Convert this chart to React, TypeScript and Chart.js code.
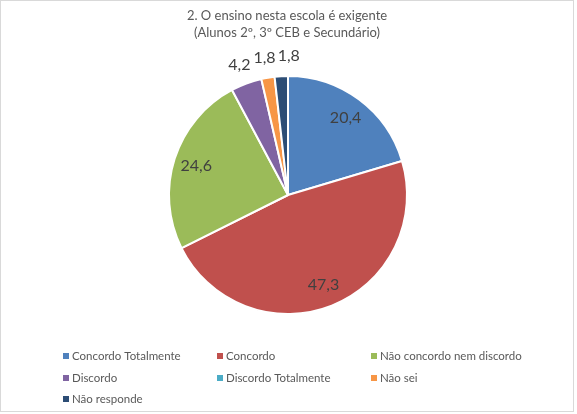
import React, { useEffect, useRef } from "react";
import { Chart, registerables } from "chart.js";

Chart.register(...registerables);

const titleLines = ["2. O ensino nesta escola é exigente", "(Alunos 2º, 3º CEB e Secundário)"];
const categories = [
  "Concordo Totalmente",
  "Concordo",
  "Não concordo nem discordo",
  "Discordo",
  "Discordo Totalmente",
  "Não sei",
  "Não responde",
];
const values = [20.4, 47.3, 24.6, 4.2, 0, 1.8, 1.8];
const colors = ["#4F81BD", "#C0504D", "#9BBB59", "#8064A2", "#4BACC6", "#F79646", "#2C4D75"];

const FONT = "Lato, 'Open Sans', sans-serif";

const fmt = (v: number) => v.toFixed(1).replace(".", ",");

const drawPlugin = {
  id: "customDraw",
  afterDraw(chart: any) {
    const ctx = chart.ctx as CanvasRenderingContext2D;
    ctx.save();
    // border
    ctx.strokeStyle = "#D9D9D9";
    ctx.lineWidth = 1;
    ctx.strokeRect(0.5, 0.5, 573, 411);

    // title
    ctx.fillStyle = "#595959";
    ctx.font = `13px ${FONT}`;
    ctx.textAlign = "center";
    ctx.textBaseline = "middle";
    titleLines.forEach((t, i) => ctx.fillText(t, 287, 16 + i * 17));

    // data labels
    const meta = chart.getDatasetMeta(0);
    ctx.font = `16px ${FONT}`;
    ctx.fillStyle = "#404040";
    let prevRight = -Infinity;
    meta.data.forEach((arc: any, i: number) => {
      const v = values[i];
      if (!v) return;
      const { x, y, startAngle, endAngle, outerRadius } = arc.getProps(
        ["x", "y", "startAngle", "endAngle", "outerRadius"],
        true
      );
      const mid = (startAngle + endAngle) / 2;
      const text = fmt(v);
      const w = ctx.measureText(text).width;
      const small = v < 5;
      const r = small ? outerRadius + 20 : outerRadius * 0.81;
      let lx = x + Math.cos(mid) * r;
      const ly = y + Math.sin(mid) * r;
      if (small) {
        if (lx - w / 2 < prevRight + 2) lx = prevRight + 2 + w / 2;
        prevRight = lx + w / 2;
      }
      ctx.textAlign = "center";
      ctx.textBaseline = "middle";
      ctx.fillText(text, lx, ly);
    });

    // legend
    const colX = [63, 217, 371];
    const rowY = [356, 378, 399];
    ctx.font = `11.5px ${FONT}`;
    ctx.textAlign = "left";
    ctx.textBaseline = "middle";
    categories.forEach((c, i) => {
      const cx = colX[i % 3];
      const cy = rowY[Math.floor(i / 3)];
      ctx.fillStyle = colors[i];
      ctx.fillRect(cx, cy - 3, 6, 6);
      ctx.fillStyle = "#595959";
      ctx.fillText(c, cx + 9, cy);
    });
    ctx.restore();
  },
};

export default function App() {
  const ref = useRef<HTMLCanvasElement>(null);
  useEffect(() => {
    if (!ref.current) return;
    const chart = new Chart(ref.current, {
      type: "pie",
      data: {
        labels: categories,
        datasets: [
          {
            data: values,
            backgroundColor: colors,
            borderColor: "#FFFFFF",
            borderWidth: 2,
          },
        ],
      },
      options: {
        responsive: false,
        animation: false,
        devicePixelRatio: 1,
        layout: { padding: { top: 75, bottom: 99, left: 168, right: 169 } },
        plugins: {
          legend: { display: false },
          title: { display: false },
          tooltip: { enabled: false },
        },
      },
      plugins: [drawPlugin],
    });
    return () => chart.destroy();
  }, []);
  return (
    <div style={{ position: "fixed", left: 0, top: 0, width: 577, height: 414, background: "#fff" }}>
      <canvas ref={ref} width={577} height={414} style={{ width: 577, height: 414 }} />
    </div>
  );
}
